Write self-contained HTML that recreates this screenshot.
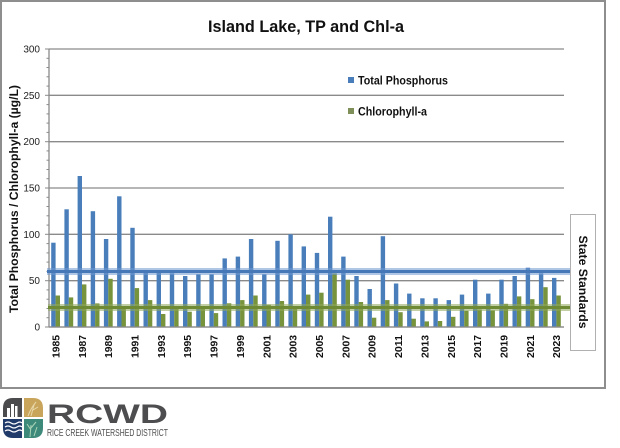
<!DOCTYPE html>
<html><head><meta charset="utf-8"><style>
html,body{margin:0;padding:0;background:#fff;}
svg{display:block;}
text{font-family:"Liberation Sans",sans-serif;}
</style></head><body>
<svg width="620" height="448" viewBox="0 0 620 448" xmlns="http://www.w3.org/2000/svg">
<rect x="0" y="0" width="620" height="448" fill="#fff"/>
<rect x="1" y="1" width="604" height="387" fill="#fff" stroke="#8e8e8e" stroke-width="2"/>
<text x="306" y="32" font-size="17" font-weight="bold" text-anchor="middle" fill="#111" textLength="196" lengthAdjust="spacingAndGlyphs">Island Lake, TP and Chl-a</text>
<!-- gridlines -->
<g stroke="#8a8a8a" stroke-width="1.3">
<line x1="49" y1="49" x2="564" y2="49"/>
<line x1="49" y1="95.3" x2="564" y2="95.3"/>
<line x1="49" y1="141.7" x2="564" y2="141.7"/>
<line x1="49" y1="188" x2="564" y2="188"/>
<line x1="49" y1="234.3" x2="564" y2="234.3"/>
<line x1="49" y1="280.7" x2="564" y2="280.7"/>
<line x1="49" y1="327" x2="564" y2="327"/>
<line x1="49" y1="49" x2="49" y2="327"/>
</g>
<g stroke="#8a8a8a" stroke-width="1">
<line x1="45" y1="49" x2="49" y2="49"/><line x1="46.5" y1="58.3" x2="49" y2="58.3"/><line x1="46.5" y1="67.5" x2="49" y2="67.5"/><line x1="46.5" y1="76.8" x2="49" y2="76.8"/><line x1="46.5" y1="86.1" x2="49" y2="86.1"/>
<line x1="45" y1="95.3" x2="49" y2="95.3"/><line x1="46.5" y1="104.6" x2="49" y2="104.6"/><line x1="46.5" y1="113.9" x2="49" y2="113.9"/><line x1="46.5" y1="123.1" x2="49" y2="123.1"/><line x1="46.5" y1="132.4" x2="49" y2="132.4"/>
<line x1="45" y1="141.7" x2="49" y2="141.7"/><line x1="46.5" y1="150.9" x2="49" y2="150.9"/><line x1="46.5" y1="160.2" x2="49" y2="160.2"/><line x1="46.5" y1="169.5" x2="49" y2="169.5"/><line x1="46.5" y1="178.7" x2="49" y2="178.7"/>
<line x1="45" y1="188" x2="49" y2="188"/><line x1="46.5" y1="197.3" x2="49" y2="197.3"/><line x1="46.5" y1="206.5" x2="49" y2="206.5"/><line x1="46.5" y1="215.8" x2="49" y2="215.8"/><line x1="46.5" y1="225.1" x2="49" y2="225.1"/>
<line x1="45" y1="234.3" x2="49" y2="234.3"/><line x1="46.5" y1="243.6" x2="49" y2="243.6"/><line x1="46.5" y1="252.9" x2="49" y2="252.9"/><line x1="46.5" y1="262.1" x2="49" y2="262.1"/><line x1="46.5" y1="271.4" x2="49" y2="271.4"/>
<line x1="45" y1="280.7" x2="49" y2="280.7"/><line x1="46.5" y1="289.9" x2="49" y2="289.9"/><line x1="46.5" y1="299.2" x2="49" y2="299.2"/><line x1="46.5" y1="308.5" x2="49" y2="308.5"/><line x1="46.5" y1="317.7" x2="49" y2="317.7"/>
<line x1="45" y1="327" x2="49" y2="327"/>
</g>
<!-- y tick labels -->
<g font-size="10" fill="#222" text-anchor="end">
<text x="40" y="52.5">300</text>
<text x="40" y="98.8">250</text>
<text x="40" y="145.2">200</text>
<text x="40" y="191.5">150</text>
<text x="40" y="237.8">100</text>
<text x="40" y="284.2">50</text>
<text x="40" y="330.5">0</text>
</g>
<text transform="translate(18,199) rotate(-90)" font-size="12" font-weight="bold" text-anchor="middle" fill="#111" textLength="228" lengthAdjust="spacingAndGlyphs">Total Phosphorus / Chlorophyll-a  (µg/L)</text>
<!-- TP bars -->
<g fill="#4a7ebb">
<rect x="51.2" y="242.7" width="4.4" height="84.3"/>
<rect x="64.4" y="209.3" width="4.4" height="117.7"/>
<rect x="77.6" y="176" width="4.4" height="151"/>
<rect x="90.7" y="211.2" width="4.4" height="115.8"/>
<rect x="103.9" y="239" width="4.4" height="88"/>
<rect x="117.1" y="196.3" width="4.4" height="130.7"/>
<rect x="130.3" y="227.8" width="4.4" height="99.2"/>
<rect x="143.5" y="272.3" width="4.4" height="54.7"/>
<rect x="156.6" y="272.3" width="4.4" height="54.7"/>
<rect x="169.8" y="273.3" width="4.4" height="53.7"/>
<rect x="183" y="276" width="4.4" height="51"/>
<rect x="196.2" y="274.2" width="4.4" height="52.8"/>
<rect x="209.4" y="274.2" width="4.4" height="52.8"/>
<rect x="222.5" y="258.4" width="4.4" height="68.6"/>
<rect x="235.7" y="256.6" width="4.4" height="70.4"/>
<rect x="248.9" y="239" width="4.4" height="88"/>
<rect x="262.1" y="274.2" width="4.4" height="52.8"/>
<rect x="275.3" y="240.8" width="4.4" height="86.2"/>
<rect x="288.4" y="234.3" width="4.4" height="92.7"/>
<rect x="301.6" y="246.4" width="4.4" height="80.6"/>
<rect x="314.8" y="252.9" width="4.4" height="74.1"/>
<rect x="328" y="216.7" width="4.4" height="110.3"/>
<rect x="341.2" y="256.6" width="4.4" height="70.4"/>
<rect x="354.3" y="276" width="4.4" height="51"/>
<rect x="367.5" y="289" width="4.4" height="38"/>
<rect x="380.7" y="236.2" width="4.4" height="90.8"/>
<rect x="393.9" y="283.5" width="4.4" height="43.5"/>
<rect x="407.1" y="293.6" width="4.4" height="33.4"/>
<rect x="420.2" y="298.3" width="4.4" height="28.7"/>
<rect x="433.4" y="298.3" width="4.4" height="28.7"/>
<rect x="446.6" y="300.1" width="4.4" height="26.9"/>
<rect x="459.8" y="294.6" width="4.4" height="32.4"/>
<rect x="473" y="279.7" width="4.4" height="47.3"/>
<rect x="486.1" y="293.6" width="4.4" height="33.4"/>
<rect x="499.3" y="279.7" width="4.4" height="47.3"/>
<rect x="512.5" y="276" width="4.4" height="51"/>
<rect x="525.7" y="267.7" width="4.4" height="59.3"/>
<rect x="538.9" y="273.3" width="4.4" height="53.7"/>
<rect x="552" y="277.9" width="4.4" height="49.1"/>
</g>
<!-- Chl bars -->
<g fill="#77933c">
<rect x="55.6" y="295.5" width="4.4" height="31.5"/>
<rect x="68.8" y="297.4" width="4.4" height="29.6"/>
<rect x="82" y="284.4" width="4.4" height="42.6"/>
<rect x="95.1" y="303.4" width="4.4" height="23.6"/>
<rect x="108.3" y="278.8" width="4.4" height="48.2"/>
<rect x="121.5" y="306.6" width="4.4" height="20.4"/>
<rect x="134.7" y="288.1" width="4.4" height="38.9"/>
<rect x="147.9" y="300.1" width="4.4" height="26.9"/>
<rect x="161" y="314" width="4.4" height="13"/>
<rect x="174.2" y="307.5" width="4.4" height="19.5"/>
<rect x="187.4" y="311.7" width="4.4" height="15.3"/>
<rect x="200.6" y="308.5" width="4.4" height="18.5"/>
<rect x="213.8" y="313.1" width="4.4" height="13.9"/>
<rect x="226.9" y="303.3" width="4.4" height="23.7"/>
<rect x="240.1" y="300.1" width="4.4" height="26.9"/>
<rect x="253.3" y="295.5" width="4.4" height="31.5"/>
<rect x="266.5" y="304.8" width="4.4" height="22.2"/>
<rect x="279.7" y="301" width="4.4" height="26"/>
<rect x="292.8" y="307.5" width="4.4" height="19.5"/>
<rect x="306" y="294.6" width="4.4" height="32.4"/>
<rect x="319.2" y="292.7" width="4.4" height="34.3"/>
<rect x="332.4" y="273.3" width="4.4" height="53.7"/>
<rect x="345.6" y="279.7" width="4.4" height="47.3"/>
<rect x="358.7" y="302" width="4.4" height="25"/>
<rect x="371.9" y="317.7" width="4.4" height="9.3"/>
<rect x="385.1" y="300.1" width="4.4" height="26.9"/>
<rect x="398.3" y="312.2" width="4.4" height="14.8"/>
<rect x="411.5" y="318.7" width="4.4" height="8.3"/>
<rect x="424.6" y="321.4" width="4.4" height="5.6"/>
<rect x="437.8" y="321" width="4.4" height="6"/>
<rect x="451" y="316.8" width="4.4" height="10.2"/>
<rect x="464.2" y="310.7" width="4.4" height="16.3"/>
<rect x="477.4" y="309.4" width="4.4" height="17.6"/>
<rect x="490.5" y="310.3" width="4.4" height="16.7"/>
<rect x="503.7" y="303.8" width="4.4" height="23.2"/>
<rect x="516.9" y="296.4" width="4.4" height="30.6"/>
<rect x="530.1" y="299.2" width="4.4" height="27.8"/>
<rect x="543.3" y="287.2" width="4.4" height="39.8"/>
<rect x="556.4" y="295.5" width="4.4" height="31.5"/>
</g>
<!-- standard bands -->
<line x1="47" y1="271.5" x2="570" y2="271.5" stroke="#6d98cf" stroke-width="7" stroke-opacity="0.55"/>
<line x1="47" y1="271.5" x2="570" y2="271.5" stroke="#4677b6" stroke-width="3"/>
<line x1="48" y1="307.5" x2="570" y2="307.5" stroke="#8fa85a" stroke-width="7" stroke-opacity="0.55"/>
<line x1="48" y1="307.5" x2="570" y2="307.5" stroke="#6f8a35" stroke-width="3"/>
<line x1="49" y1="327" x2="564" y2="327" stroke="#8a8a8a" stroke-width="1.3"/>
<!-- x labels -->
<g font-size="10.5" font-weight="bold" fill="#111" text-anchor="end">
<text transform="translate(59.4,335) rotate(-90)" textLength="23" lengthAdjust="spacingAndGlyphs">1985</text>
<text transform="translate(85.8,335) rotate(-90)" textLength="23" lengthAdjust="spacingAndGlyphs">1987</text>
<text transform="translate(112.1,335) rotate(-90)" textLength="23" lengthAdjust="spacingAndGlyphs">1989</text>
<text transform="translate(138.5,335) rotate(-90)" textLength="23" lengthAdjust="spacingAndGlyphs">1991</text>
<text transform="translate(164.8,335) rotate(-90)" textLength="23" lengthAdjust="spacingAndGlyphs">1993</text>
<text transform="translate(191.2,335) rotate(-90)" textLength="23" lengthAdjust="spacingAndGlyphs">1995</text>
<text transform="translate(217.6,335) rotate(-90)" textLength="23" lengthAdjust="spacingAndGlyphs">1997</text>
<text transform="translate(243.9,335) rotate(-90)" textLength="23" lengthAdjust="spacingAndGlyphs">1999</text>
<text transform="translate(270.3,335) rotate(-90)" textLength="23" lengthAdjust="spacingAndGlyphs">2001</text>
<text transform="translate(296.6,335) rotate(-90)" textLength="23" lengthAdjust="spacingAndGlyphs">2003</text>
<text transform="translate(323,335) rotate(-90)" textLength="23" lengthAdjust="spacingAndGlyphs">2005</text>
<text transform="translate(349.4,335) rotate(-90)" textLength="23" lengthAdjust="spacingAndGlyphs">2007</text>
<text transform="translate(375.7,335) rotate(-90)" textLength="23" lengthAdjust="spacingAndGlyphs">2009</text>
<text transform="translate(402.1,335) rotate(-90)" textLength="23" lengthAdjust="spacingAndGlyphs">2011</text>
<text transform="translate(428.4,335) rotate(-90)" textLength="23" lengthAdjust="spacingAndGlyphs">2013</text>
<text transform="translate(454.8,335) rotate(-90)" textLength="23" lengthAdjust="spacingAndGlyphs">2015</text>
<text transform="translate(481.2,335) rotate(-90)" textLength="23" lengthAdjust="spacingAndGlyphs">2017</text>
<text transform="translate(507.5,335) rotate(-90)" textLength="23" lengthAdjust="spacingAndGlyphs">2019</text>
<text transform="translate(533.9,335) rotate(-90)" textLength="23" lengthAdjust="spacingAndGlyphs">2021</text>
<text transform="translate(560.2,335) rotate(-90)" textLength="23" lengthAdjust="spacingAndGlyphs">2023</text>
</g>
<!-- legend -->
<rect x="348" y="77" width="6" height="6" fill="#4a7ebb"/>
<text x="358" y="84.5" font-size="12" font-weight="bold" fill="#111" textLength="90" lengthAdjust="spacingAndGlyphs">Total Phosphorus</text>
<rect x="348" y="108" width="6" height="6" fill="#7f8f5a"/>
<text x="358" y="115.5" font-size="12" font-weight="bold" fill="#111" textLength="69" lengthAdjust="spacingAndGlyphs">Chlorophyll-a</text>
<!-- state standards box -->
<rect x="570.5" y="214.5" width="25" height="136" fill="#fff" stroke="#b0b0b0" stroke-width="1"/>
<text transform="translate(579,282) rotate(90)" font-size="12" font-weight="bold" fill="#111" text-anchor="middle" textLength="93" lengthAdjust="spacingAndGlyphs">State Standards</text>
<!-- logo -->
<g>
<path d="M3,417 L3,408 Q3,398 13,398 L22,398 L22,417 Z" fill="#4b4b4d"/>
<rect x="7" y="408" width="3" height="9" fill="#fff"/>
<rect x="11" y="404" width="3" height="13" fill="#fff"/>
<rect x="15" y="406" width="2.5" height="11" fill="#fff"/>
<path d="M24,398 L33,398 Q43,398 43,408 L43,417 L24,417 Z" fill="#c9a55c"/>
<path d="M28,416 Q31,408 36,402 M31,416 L34,405 M33,410 L38,407" stroke="#e8d7a8" stroke-width="1" fill="none"/>
<path d="M3,419 L22,419 L22,438 L13,438 Q3,438 3,428 Z" fill="#203a6a"/>
<path d="M5,423 Q8,421 11,423 T17,423 T22,423 M5,427 Q8,425 11,427 T17,427 T22,427 M5,431 Q8,429 11,431 T17,431 T22,431" stroke="#fff" stroke-width="1.2" fill="none"/>
<path d="M24,419 L43,419 L43,428 Q43,438 33,438 L24,438 Z" fill="#3d8a7a"/>
<path d="M30,437 L31,425 M31,430 L27,424 M31,428 L36,422 M34,436 L37,427" stroke="#a9d3b6" stroke-width="1" fill="none"/>
</g>
<text x="47" y="423" font-size="27" font-weight="bold" fill="#4d4d4f" textLength="121" lengthAdjust="spacingAndGlyphs">RCWD</text>
<text x="47" y="436" font-size="10.5" fill="#4d4d4f" textLength="121" lengthAdjust="spacingAndGlyphs">RICE CREEK WATERSHED DISTRICT</text>
</svg>
</body></html>
